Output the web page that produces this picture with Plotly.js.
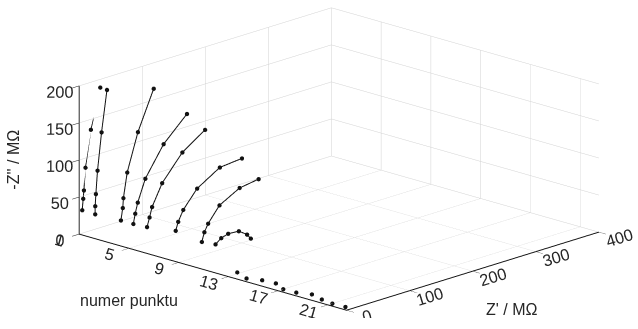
<!DOCTYPE html>
<html>
<head>
<meta charset="utf-8">
<script src="https://cdn.plot.ly/plotly-3.0.1.min.js"></script>
<style>html,body{margin:0;padding:0;background:#fff}#chart{width:638px;height:329px}#msg{position:absolute;left:0;top:0;font:12px sans-serif;color:red}</style>
</head>
<body>
<div id="chart"></div>
<div id="msg"></div>
<script>
// numer punktu for each impedance spectrum
const punkt = [1, 2, 4, 5, 6, 8, 10, 11];
// Z' / MOhm for each spectrum
const zRe1 = [4.8, 6.4, 7.5, 10, 18.6, 33.4];
const zRe2 = [5.7, 5.7, 6.8, 9.4, 15.8, 24.4];
const zRe4 = [7, 10, 11, 17, 34, 59];
const zRe5 = [7, 10, 14, 26, 55, 92];
const zRe6 = [9, 13, 17, 33, 65, 101];
const zRe8 = [15, 19, 27, 49, 85, 120];
const zRe10 = [17, 21, 27, 45, 77, 107];
const zRe11 = [19, 28, 39, 56, 69, 75];
// -Z'' / MOhm for each spectrum
const zIm1 = [31, 46, 57, 87, 136, 189];
const zIm2 = [30, 41, 57, 88, 138, 193];
const zIm4 = [31, 47, 60, 93, 143, 195];
const zIm5 = [31, 44, 58, 87, 126, 157];
const zIm6 = [31, 43, 56, 84, 117, 138];
const zIm8 = [34, 45, 59, 82, 101, 104];
const zIm10 = [28, 40, 50, 70, 85, 89];
const zIm11 = [29, 35, 38, 37, 29, 22];
// late points collapsed near origin
const punktLate = [13, 14, 15, 16, 17, 18, 19, 20, 21, 22];
const zReLate = [14, 9, 14, 16, 8, 9, 14, 10, 7, 8];
const zImLate = [2, 0, 1, 1, 0, 0, 1, 0, 0, 0];
// tick labels
const xTicks = [1, 5, 9, 13, 17, 21];
const yTicks = [0, 100, 200, 300, 400];
const zTicks = [0, 50, 100, 150, 200];

const m = document.getElementById('msg');
window.onerror = function(e){ m.textContent += ' ERR: ' + e; };

const reList = [zRe1, zRe2, zRe4, zRe5, zRe6, zRe8, zRe10, zRe11];
const imList = [zIm1, zIm2, zIm4, zIm5, zIm6, zIm8, zIm10, zIm11];

const traces = punkt.map((p, i) => ({
  type: 'scatter3d', mode: 'lines+markers',
  x: reList[i].map(() => p), y: reList[i], z: imList[i],
  line: {color: '#111', width: 2},
  marker: {color: '#111', size: 2.5},
  showlegend: false, hoverinfo: 'none'
}));
traces.push({
  type: 'scatter3d', mode: 'markers',
  x: punktLate, y: zReLate, z: zImLate,
  marker: {color: '#111', size: 2.5},
  showlegend: false, hoverinfo: 'none'
});

const titleFont = {family: 'Liberation Sans, Arial, sans-serif', size: 16, color: '#262626'};
const tickFont = {family: 'Liberation Sans, Arial, sans-serif', size: 14, color: '#262626'};
const ax = (range, vals, angle) => ({
  range: range, tickvals: vals, ticktext: vals.map(String),
  title: {text: ''},
  tickfont: tickFont, tickangle: angle,
  showgrid: true, gridcolor: '#d2d2d2', gridwidth: 1,
  showline: true, linecolor: '#111', linewidth: 2,
  ticks: 'inside', ticklen: 10, tickcolor: '#111',
  zeroline: false, showbackground: false, showspikes: false
});

const zoom = 2.33;
const layout = {
  width: 638, height: 329,
  margin: {l: 0, r: 0, t: 0, b: 0},
  paper_bgcolor: '#fff',
  showlegend: false,
  scene: {
    domain: {x: [0.062, 1], y: [0.034, 1]},
    aspectmode: 'manual',
    aspectratio: {x: 1 * zoom, y: 0.984 * zoom, z: 0.419 * zoom},
    camera: {
      projection: {type: 'orthographic'},
      eye: {x: 0.6608 * 2, y: -0.6892 * 2, z: 0.2968 * 2},
      up: {x: 0, y: 0, z: 1},
      center: {x: 0, y: 0, z: 0}
    },
    xaxis: ax([1, 22.5], xTicks, 16),
    yaxis: ax([0, 400], yTicks, -17),
    zaxis: ax([0, 200], zTicks, 0),
    annotations: [
      {x: 5, y: 0, z: 0, text: 'numer punktu', showarrow: false, yshift: -52, font: titleFont},
      {x: 22.5, y: 261, z: 0, text: "Z' / MΩ", showarrow: false, yshift: -50, font: titleFont},
      {x: 1, y: 0, z: 100, text: "-Z'' / MΩ", showarrow: false, xshift: -65, textangle: -90, font: titleFont}
    ]
  }
};
try {
  Plotly.newPlot('chart', traces, layout, {displayModeBar: false}).catch(e => { m.textContent += ' perr: ' + e; });
} catch (e) { m.textContent += ' catch: ' + e; }
</script>
</body>
</html>
